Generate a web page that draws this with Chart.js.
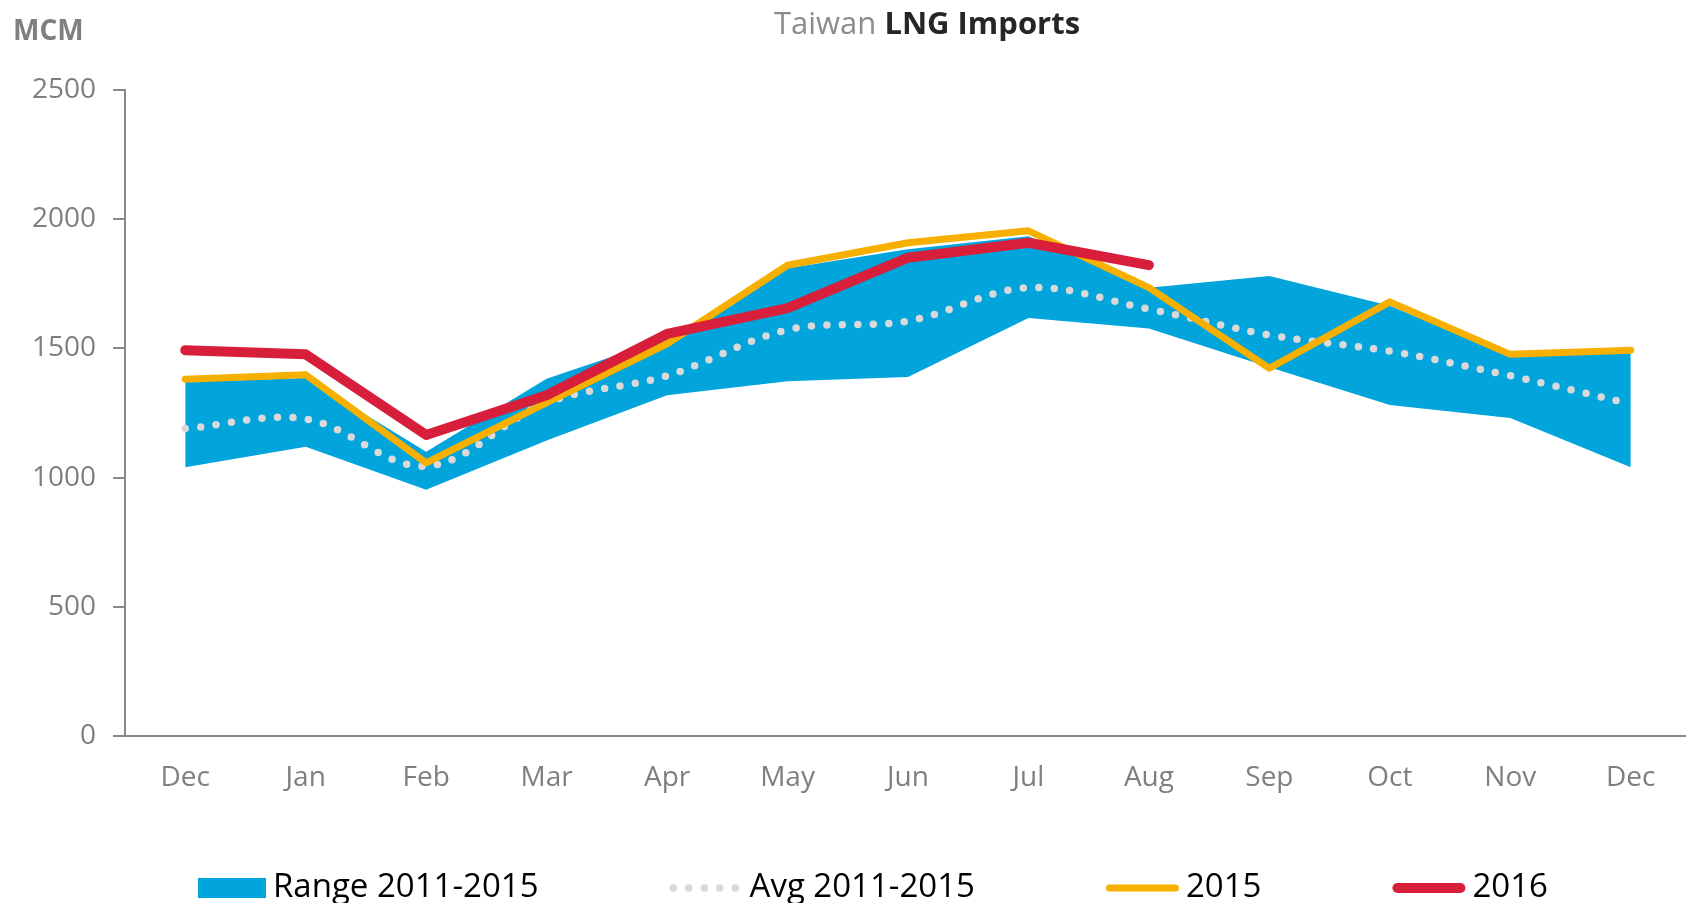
<!DOCTYPE html>
<html>
<head>
<meta charset="utf-8">
<script src="https://cdn.jsdelivr.net/npm/chart.js@4"></script>
<style>
  html, body { margin: 0; padding: 0; background: #fff; overflow: hidden; }
  #wrap { width: 1686px; height: 903px; overflow: hidden; }
</style>
</head>
<body>
<div id="wrap"><canvas id="lngChart" width="1691" height="903"></canvas></div>
<script>
const months = ['Dec', 'Jan', 'Feb', 'Mar', 'Apr', 'May', 'Jun', 'Jul', 'Aug', 'Sep', 'Oct', 'Nov', 'Dec'];
const rangeHigh = [1370, 1385, 1100, 1383, 1540, 1810, 1884, 1934, 1735, 1780, 1665, 1470, 1485];
const rangeLow = [1040, 1119, 953, 1144, 1319, 1373, 1389, 1618, 1577, 1427, 1281, 1231, 1040];
const avg2011_2015 = [1190, 1227, 1044, 1290, 1394, 1572, 1606, 1735, 1652, 1552, 1489, 1394, 1285];
const imports2015 = [1381, 1398, 1057, 1290, 1518, 1822, 1909, 1955, 1735, 1423, 1680, 1477, 1493];
const imports2016 = [1493, 1477, 1165, 1319, 1556, 1656, 1851, 1909, 1822];
const yTicks = [0, 500, 1000, 1500, 2000, 2500];

const axisColor = '#898989';
const tickColor = '#7f7f7f';

Chart.defaults.font.family = '"Open Sans", sans-serif';

// title, unit label and legend drawn straight onto the canvas
const decorPlugin = {
    id: 'decor',
    afterDraw(chart) {
        const ctx = chart.ctx;
        ctx.save();
        ctx.textBaseline = 'middle';

        // title: "Taiwan" light, "LNG Imports" bold
        ctx.font = '31px "Open Sans"';
        const w1 = ctx.measureText('Taiwan ').width;
        ctx.font = 'bold 31px "Open Sans"';
        const w2 = ctx.measureText('LNG Imports').width;
        const x = 927 - (w1 + w2) / 2;
        ctx.font = '31px "Open Sans"';
        ctx.fillStyle = '#8c8c8c';
        ctx.textAlign = 'left';
        ctx.fillText('Taiwan ', x, 25);
        ctx.font = 'bold 31px "Open Sans"';
        ctx.fillStyle = '#262626';
        ctx.fillText('LNG Imports', x + w1, 25);

        // unit
        ctx.font = 'bold 28px "Open Sans"';
        ctx.fillStyle = tickColor;
        ctx.fillText('MCM', 13, 32);

        // legend
        const items = chart.data.datasets.filter(d => d.label);
        const textGap = 7, itemGap = 131, ly = 888;
        ctx.font = '33px "Open Sans"';
        const sampleW = d => d.fill ? 68 : 73;
        const widths = items.map(d => sampleW(d) + textGap + ctx.measureText(d.label).width);
        let lx = 198;
        items.forEach((d, i) => {
            const sw = sampleW(d);
            if (d.fill) {
                ctx.fillStyle = d.backgroundColor;
                ctx.fillRect(lx, ly - 10, sw, 20);
            } else {
                ctx.beginPath();
                ctx.strokeStyle = d.borderColor;
                ctx.lineWidth = d.borderWidth;
                ctx.lineCap = 'round';
                ctx.setLineDash(d.borderDash || []);
                ctx.moveTo(lx + d.borderWidth / 2, ly);
                ctx.lineTo(lx + sw - d.borderWidth / 2, ly);
                ctx.stroke();
                ctx.setLineDash([]);
            }
            ctx.fillStyle = '#000';
            ctx.fillText(d.label, lx + sw + textGap, ly);
            lx += widths[i] + itemGap;
        });
        ctx.restore();
    }
};

new Chart(document.getElementById('lngChart').getContext('2d'), {
    type: 'line',
    data: {
        labels: months,
        datasets: [
            {
                label: 'Range 2011-2015',
                data: rangeHigh,
                borderWidth: 0,
                pointRadius: 0,
                backgroundColor: '#02a4dc',
                fill: '+1',
                order: 5
            },
            {
                data: rangeLow,
                borderWidth: 0,
                pointRadius: 0,
                fill: false,
                order: 5
            },
            {
                label: 'Avg 2011-2015',
                data: avg2011_2015,
                borderColor: '#d9d9d9',
                borderWidth: 7.5,
                borderDash: [0, 15.5],
                borderCapStyle: 'round',
                tension: 0.35,
                pointRadius: 0,
                fill: false,
                order: 3
            },
            {
                label: '2015',
                data: imports2015,
                borderColor: '#f8b000',
                borderWidth: 7,
                borderCapStyle: 'round',
                borderJoinStyle: 'round',
                pointRadius: 0,
                fill: false,
                order: 2
            },
            {
                label: '2016',
                data: imports2016,
                borderColor: '#d71f3b',
                borderWidth: 10,
                borderCapStyle: 'round',
                borderJoinStyle: 'round',
                pointRadius: 0,
                fill: false,
                order: 1
            }
        ]
    },
    options: {
        responsive: false,
        animation: false,
        layout: { padding: { top: 90, left: 0, right: 0, bottom: 0 } },
        plugins: {
            legend: { display: false },
            tooltip: { enabled: false }
        },
        scales: {
            x: {
                offset: true,
                grid: { display: false, drawTicks: false },
                border: { display: true, color: axisColor, width: 2 },
                ticks: { color: tickColor, font: { size: 28 }, padding: 25, maxRotation: 0, autoSkip: false },
                afterFit: s => { s.height = 167; }
            },
            y: {
                min: 0,
                max: 2500,
                afterBuildTicks: s => { s.ticks = yTicks.map(v => ({ value: v })); },
                grid: { drawOnChartArea: false, drawTicks: true, tickLength: 12, color: axisColor, lineWidth: 2 },
                border: { display: true, color: axisColor, width: 2 },
                ticks: { color: tickColor, font: { size: 28 }, padding: 17, callback: v => String(v) },
                afterFit: s => { s.width = 125; }
            }
        }
    },
    plugins: [decorPlugin]
});
</script>
</body>
</html>
